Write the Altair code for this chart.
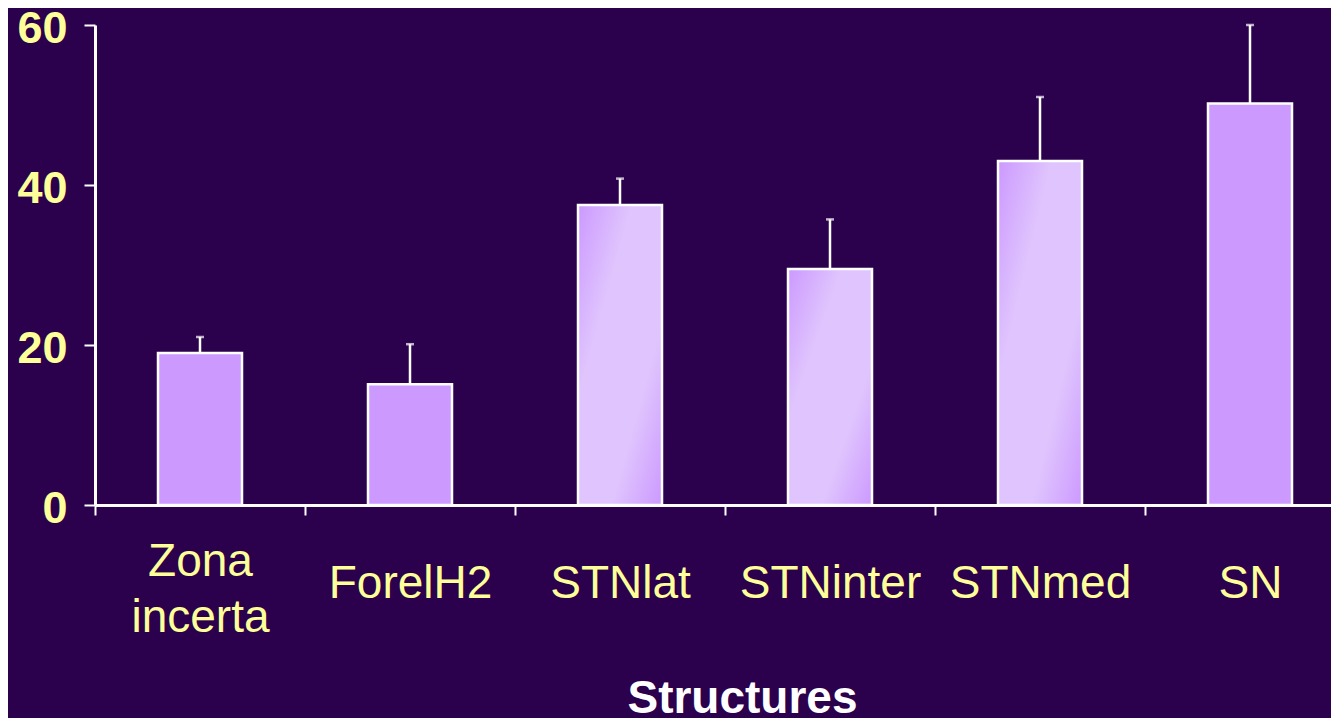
import altair as alt
import pandas as pd

categories = ["Zona incerta", "ForelH2", "STNlat", "STNinter", "STNmed", "SN"]
means = [19.0, 15.1, 37.5, 29.5, 43.0, 50.2]
err_top = [21.0, 20.1, 40.8, 35.7, 51.0, 60.0]
shaded = [False, False, True, True, True, False]
y_ticks = [0, 20, 40, 60]

df = pd.DataFrame({"cat": categories, "mean": means, "err": err_top, "shaded": shaded})

BG = "#2b004d"
BAR = "#cc99ff"
LIGHT = "#dfc4fd"
YELLOW = "#ffff99"
FONT = "Liberation Sans"

x_enc = alt.X(
    "cat:N",
    sort=categories,
    scale=alt.Scale(paddingInner=0, paddingOuter=0, range=[0, 1260]),
    axis=alt.Axis(
        title="Structures",
        titleFont=FONT,
        titleFontSize=46,
        titleFontWeight="bold",
        titleColor="white",
        titleBaseline="alphabetic",
        titleY=207,
        titleX=647,
        titleAlign="center",
        labelFont=FONT,
        labelFontSize=46,
        labelColor=YELLOW,
        labelAngle=0,
        labelBaseline="middle",
        labelPadding={"condition": {"test": "datum.label == 'Zona incerta'", "value": 46}, "value": 68},
        labelLineHeight=56,
        labelLimit=0,
        labelExpr="split(datum.label, ' ')",
        domainColor="white",
        domainWidth=3,
        tickColor="white",
        tickWidth=2,
        tickSize=10,
        tickBand="extent",
        grid=False,
    ),
)

y_enc = alt.Y(
    "mean:Q",
    scale=alt.Scale(domain=[0, 60], nice=False, zero=True),
    axis=alt.Axis(
        title=None,
        values=y_ticks,
        labelFont=FONT,
        labelFontSize=45,
        labelFontWeight="bold",
        labelColor=YELLOW,
        labelPadding=17,
        labelOffset=3,
        domainColor="white",
        domainWidth=3,
        tickColor="white",
        tickWidth=2,
        tickSize=11,
        grid=False,
    ),
)

base = alt.Chart(df)

rules = base.mark_rule(color="white", strokeWidth=2.5).encode(
    x=x_enc, y=y_enc, y2="err:Q"
)

solid = base.transform_filter("!datum.shaded").mark_bar(
    size=84, fill=BAR, stroke="white", strokeWidth=2.5
).encode(x=x_enc, y=y_enc)

grad = alt.LinearGradient(
    gradient="linear",
    stops=[
        alt.GradientStop(color=BAR, offset=0),
        alt.GradientStop(color=LIGHT, offset=0.32),
        alt.GradientStop(color=LIGHT, offset=0.7),
        alt.GradientStop(color=BAR, offset=1),
    ],
    x1=0, y1=0, x2=1, y2=1,
)

shaded_bars = base.transform_filter("datum.shaded").mark_bar(
    size=84, fill=grad, stroke="white", strokeWidth=2.5
).encode(x=x_enc, y=y_enc)

caps = base.mark_tick(color="white", thickness=2.5, size=8).encode(
    x=x_enc, y=alt.Y("err:Q")
)

chart = alt.layer(rules, solid, shaded_bars, caps).properties(
    width=1236,
    height=480,
    background=BG,
    padding={"left": 87, "top": 17, "right": 0, "bottom": 213},
    autosize=alt.AutoSizeParams(type="none"),
).configure_view(stroke=None)

chart.save("out.html", embed_options={"renderer": "svg", "actions": False})
